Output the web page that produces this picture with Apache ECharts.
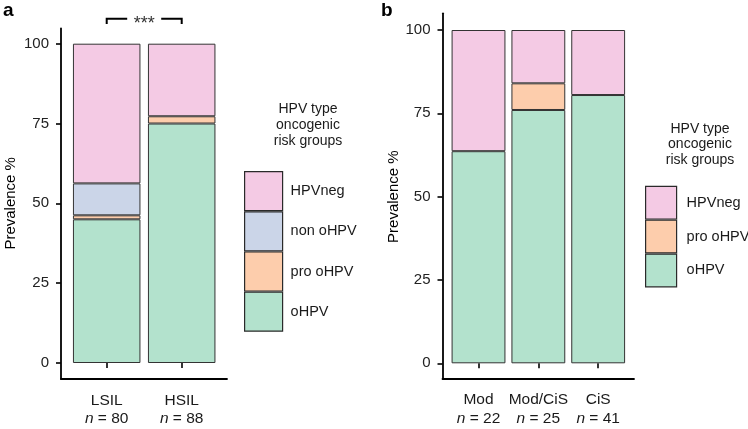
<!DOCTYPE html>
<html><head><meta charset="utf-8">
<script src="https://cdn.jsdelivr.net/npm/echarts@6/dist/echarts.min.js"></script>
<style>html,body{margin:0;padding:0;background:#fff}#c{width:748px;height:429px}</style>
</head><body><div id="c"></div>
<script>
// ---------- data ----------
const groupsA = ['LSIL', 'HSIL'];
const nA = [80, 88];
const oHPV_A = [45.0, 75.0];
const proOHPV_A = [1.25, 2.27];
const nonOHPV_A = [10.0, null];
const hpvNeg_A = [43.75, 22.73];

const groupsB = ['Mod', 'Mod/CiS', 'CiS'];
const nB = [22, 25, 41];
const oHPV_B = [63.64, 76.0, 80.49];
const proOHPV_B = [null, 8.0, null];
const hpvNeg_B = [36.36, 16.0, 19.51];

const yTickInterval = 25;           // ticks 0,25,50,75,100
const sigPair = [0, 1];             // LSIL vs HSIL
const sigLabel = '***';
const sigLevel = [107.8, 106.2];    // bracket top, bracket drop

const legendA = ['HPVneg', 'non oHPV', 'pro oHPV', 'oHPV'];
const legendB = ['HPVneg', 'pro oHPV', 'oHPV'];
const legendTitle = 'HPV type\noncogenic\nrisk groups';
const yTitle = 'Prevalence %';

// ---------- style ----------
const FONT = '"Liberation Sans", Arial, Helvetica, sans-serif';
const colors = { 'oHPV': '#B3E2CD', 'pro oHPV': '#FDCDAC', 'non oHPV': '#CBD5E8', 'HPVneg': '#F4CAE4' };

function bar(name, data, axis) {
  return {
    type: 'bar', name: name, data: data, xAxisIndex: axis, yAxisIndex: axis,
    stack: 'stack' + axis, barWidth: '90%',
    itemStyle: { color: colors[name], borderColor: '#333', borderWidth: 1 },
    emphasis: { disabled: true }, silent: true
  };
}

function catAxis(grid, cats, ns, offset) {
  return {
    gridIndex: grid, type: 'category', data: cats, offset: offset,
    axisLine: { show: false },
    axisTick: { show: true, alignWithLabel: true, length: 5, lineStyle: { color: '#000', width: 1.6 } },
    axisLabel: {
      interval: 0, margin: 12, color: '#1a1a1a', fontFamily: FONT, fontSize: 15.5, lineHeight: 18.5,
      formatter: function (v, i) { return v + '\n{i|n} = ' + ns[i]; },
      rich: { i: { fontStyle: 'italic', fontFamily: FONT, fontSize: 15.5, lineHeight: 18.5, color: '#1a1a1a' } }
    },
    splitLine: { show: false }
  };
}
function valAxis(grid, offset, margin, nameGap) {
  return {
    gridIndex: grid, type: 'value', min: 0, max: 100, interval: yTickInterval, offset: offset,
    axisLine: { show: false },
    axisTick: { show: true, length: 5, lineStyle: { color: '#000', width: 1.6 } },
    axisLabel: { margin: margin, color: '#222', fontFamily: FONT, fontSize: 15 },
    splitLine: { show: false },
    name: yTitle, nameLocation: 'middle', nameGap: nameGap,
    nameTextStyle: { color: '#000', fontFamily: FONT, fontSize: 15 }
  };
}
function frameX(grid) {
  return { gridIndex: grid, type: 'value', min: 0, max: 1, axisLine: { show: true, onZero: false, lineStyle: { color: '#000', width: 1.8 } },
    axisTick: { show: false }, axisLabel: { show: false }, splitLine: { show: false } };
}
function frameY(grid) {
  return { gridIndex: grid, type: 'value', min: 0, max: 1, axisLine: { show: true, onZero: false, lineStyle: { color: '#000', width: 1.8 } },
    axisTick: { show: false }, axisLabel: { show: false }, splitLine: { show: false } };
}
function legend(items, left, top, w, h, pad) {
  return {
    data: items, orient: 'vertical', left: left, top: top, padding: 0, itemWidth: w, itemHeight: h, itemGap: 0,
    icon: 'rect', selectedMode: false,
    itemStyle: { borderWidth: 1.2, borderColor: '#2a2a2a' },
    textStyle: { fontFamily: FONT, fontSize: 14.5, color: '#1a1a1a', padding: [0, 0, 0, pad] }
  };
}

const chart = echarts.init(document.getElementById('c'), null, { renderer: 'canvas' });
chart.setOption({
  animation: false,
  backgroundColor: '#fff',
  grid: [
    { left: 69.2, top: 43.7, width: 150, height: 319.3, outerBoundsMode: 'none' },     // panel a bars
    { left: 61, top: 28.5, width: 166, height: 350.5, outerBoundsMode: 'none' },        // panel a frame
    { left: 448.6, top: 30, width: 179.5, height: 333.3, outerBoundsMode: 'none' },     // panel b bars
    { left: 442.5, top: 13.3, width: 191.5, height: 365.2, outerBoundsMode: 'none' }    // panel b frame
  ],
  xAxis: [catAxis(0, groupsA, nA, 16), frameX(1), catAxis(2, groupsB, nB, 15.2), frameX(3)],
  yAxis: [valAxis(0, 8.2, 12, 42.5), frameY(1), valAxis(2, 6.1, 12, 40.5), frameY(3)],
  legend: [legend(legendA, 244, 171, 38, 39, 3), legend(legendB, 645, 185.7, 31, 32.7, 5)],
  series: [
    bar('oHPV', oHPV_A, 0), bar('pro oHPV', proOHPV_A, 0), bar('non oHPV', nonOHPV_A, 0), bar('HPVneg', hpvNeg_A, 0),
    bar('oHPV', oHPV_B, 2), bar('pro oHPV', proOHPV_B, 2), bar('HPVneg', hpvNeg_B, 2),
    {
      type: 'custom', xAxisIndex: 0, yAxisIndex: 0, clip: false, silent: true, z: 10,
      data: [[sigPair[0], sigPair[1], sigLevel[0], sigLevel[1]]],
      encode: { x: [0, 1], y: [2, 3] },
      renderItem: function (params, api) {
        const a = api.coord([api.value(0), api.value(2)]);
        const b = api.coord([api.value(1), api.value(2)]);
        const yb = api.coord([api.value(0), api.value(3)])[1];
        const mid = (a[0] + b[0]) / 2, gap = 17;
        const ls = { stroke: '#000', lineWidth: 2, fill: null };
        return { type: 'group', children: [
          { type: 'polyline', shape: { points: [[a[0], yb], [a[0], a[1]], [mid - gap, a[1]]] }, style: ls },
          { type: 'polyline', shape: { points: [[mid + gap, a[1]], [b[0], a[1]], [b[0], yb]] }, style: ls },
          { type: 'text', style: { text: sigLabel, x: mid, y: a[1] + 5, align: 'center', verticalAlign: 'middle',
            font: '18px ' + FONT, fill: '#333' } }
        ] };
      }
    }
  ],
  graphic: [
    { type: 'text', x: 3, y: 1, style: { text: 'a', font: 'bold 19px ' + FONT, fill: '#000', align: 'left', verticalAlign: 'top' } },
    { type: 'text', x: 381, y: 1, style: { text: 'b', font: 'bold 19px ' + FONT, fill: '#000', align: 'left', verticalAlign: 'top' } },
    { type: 'text', x: 308, y: 101, style: { text: legendTitle, font: '14px ' + FONT, lineHeight: 16, fill: '#1a1a1a',
      align: 'center', textAlign: 'center', verticalAlign: 'top', textVerticalAlign: 'top' } },
    { type: 'text', x: 700, y: 121, style: { text: legendTitle, font: '14px ' + FONT, lineHeight: 15.5, fill: '#1a1a1a',
      align: 'center', textAlign: 'center', verticalAlign: 'top', textVerticalAlign: 'top' } }
  ]
});
</script></body></html>
